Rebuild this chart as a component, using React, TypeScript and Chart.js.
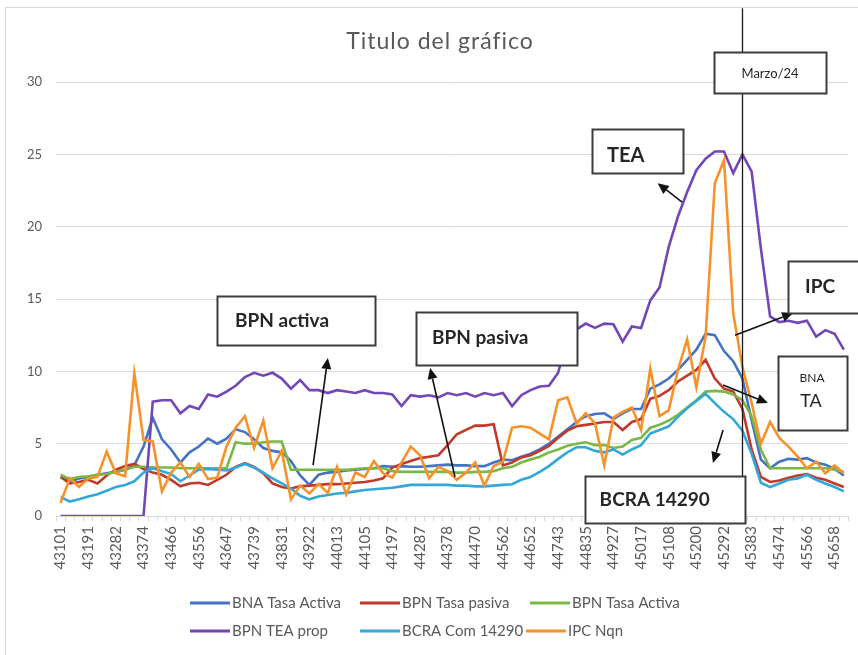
import React, { useEffect, useRef } from "react";
import { Chart, registerables } from "chart.js";

Chart.register(...registerables);

// Excel date serials, one per month (Jan 2018 .. Feb 2025)
const categories = [
  43101, 43132, 43160, 43191, 43221, 43252, 43282, 43313, 43344, 43374, 43405, 43435,
  43466, 43497, 43525, 43556, 43586, 43617, 43647, 43678, 43709, 43739, 43770, 43800,
  43831, 43862, 43891, 43922, 43952, 43983, 44013, 44044, 44075, 44105, 44136, 44166,
  44197, 44228, 44256, 44287, 44317, 44348, 44378, 44409, 44440, 44470, 44501, 44531,
  44562, 44593, 44621, 44652, 44682, 44713, 44743, 44774, 44805, 44835, 44866, 44896,
  44927, 44958, 44986, 45017, 45047, 45078, 45108, 45139, 45170, 45200, 45231, 45261,
  45292, 45323, 45352, 45383, 45413, 45444, 45474, 45505, 45536, 45566, 45597, 45627,
  45658, 45689,
];

const bnaTasaActiva = [
  2.7, 2.4, 2.6, 2.7, 2.85, 2.95, 3.05, 3.2, 3.5, 4.8,
  6.8, 5.3, 4.6, 3.7, 4.4, 4.8, 5.35, 5.0, 5.35, 6.0,
  5.8, 5.3, 4.7, 4.5, 4.4, 3.8, 2.8, 2.15, 2.85, 3.0,
  3.05, 3.15, 3.2, 3.25, 3.3, 3.45, 3.4, 3.45, 3.4, 3.4,
  3.45, 3.5, 3.55, 3.5, 3.5, 3.45, 3.45, 3.7, 3.9, 3.85,
  4.1, 4.3, 4.6, 5.0, 5.5, 6.0, 6.5, 6.9, 7.05, 7.1,
  6.7, 7.1, 7.4, 7.4, 8.8, 9.1, 9.5, 10.1, 10.8, 11.5,
  12.6, 12.5, 11.4, 10.7, 9.5, 6.6, 3.9, 3.3, 3.75, 3.95,
  3.9, 4.0, 3.7, 3.55, 3.25, 2.8,
];

const bpnTasaPasiva = [
  2.7, 2.25, 2.35, 2.5, 2.25, 2.8, 3.2, 3.45, 3.6, 3.25,
  3.0, 2.85, 2.5, 2.05, 2.25, 2.3, 2.15, 2.5, 2.85, 3.4,
  3.65, 3.4, 2.95, 2.25, 2.0, 1.9, 2.05, 2.1, 2.15, 2.2,
  2.2, 2.25, 2.3, 2.35, 2.45, 2.6, 3.35, 3.6, 3.8, 4.0,
  4.1, 4.2, 4.9, 5.65, 5.95, 6.25, 6.25, 6.35, 3.5, 3.7,
  4.05, 4.2, 4.5, 4.85, 5.4, 5.9, 6.2, 6.3, 6.4, 6.5,
  6.5, 5.95, 6.5, 6.7, 8.1, 8.3, 8.7, 9.3, 9.7, 10.1,
  10.8, 9.5, 8.8, 8.6, 7.4, 4.6, 2.7, 2.35, 2.45, 2.65,
  2.8, 2.9, 2.65, 2.5, 2.25, 2.0,
];

const bpnTasaActiva = [
  2.85, 2.55, 2.7, 2.75, 2.85, 2.9, 3.05, 3.2, 3.4, 3.4,
  3.35, 3.35, 3.35, 3.3, 3.3, 3.3, 3.3, 3.3, 3.3, 5.1,
  5.0, 5.0, 5.1, 5.15, 5.15, 3.2, 3.2, 3.2, 3.2, 3.2,
  3.2, 3.2, 3.25, 3.3, 3.3, 3.3, 3.1, 3.05, 3.05, 3.05,
  3.05, 3.05, 3.05, 3.0, 3.0, 3.05, 3.05, 3.1, 3.3, 3.4,
  3.7, 3.9, 4.1, 4.4, 4.6, 4.85, 5.0, 5.1, 4.9, 4.9,
  4.7, 4.8, 5.25, 5.4, 6.1, 6.3, 6.6, 7.0, 7.5, 8.0,
  8.6, 8.65, 8.6, 8.4, 8.0, 6.9, 4.6, 3.3, 3.3, 3.3,
  3.3, 3.3, 3.3, 3.3, 3.2, 3.05,
];

const bpnTeaProp = [
  0, 0, 0, 0, 0, 0, 0, 0, 0, 0,
  7.9, 8.0, 8.0, 7.1, 7.6, 7.4, 8.4, 8.25, 8.6, 9.0,
  9.6, 9.9, 9.7, 9.9, 9.5, 8.8, 9.4, 8.7, 8.7, 8.5,
  8.7, 8.6, 8.5, 8.7, 8.5, 8.5, 8.4, 7.6, 8.35, 8.25,
  8.35, 8.2, 8.5, 8.35, 8.5, 8.25, 8.5, 8.35, 8.5, 7.6,
  8.35, 8.7, 8.95, 9.0, 9.9, 12.3, 12.9, 13.3, 13.0, 13.3,
  13.25, 12.05, 13.1, 13.0, 14.9, 15.8, 18.6, 20.7, 22.4, 23.9,
  24.7, 25.2, 25.2, 23.7, 25.0, 23.8, 18.5, 13.8, 13.4, 13.5,
  13.35, 13.5, 12.4, 12.85, 12.6, 11.5,
];

const bcraCom14290 = [
  1.3, 1.0, 1.15, 1.35, 1.5, 1.75, 2.0, 2.15, 2.4, 3.0,
  3.3, 3.1, 2.9, 2.4, 2.8, 3.2, 3.25, 3.2, 3.15, 3.35,
  3.6, 3.35, 3.0, 2.6, 2.25, 1.9, 1.4, 1.15, 1.35, 1.45,
  1.55, 1.6, 1.7, 1.8, 1.85, 1.9, 1.95, 2.05, 2.15, 2.15,
  2.15, 2.15, 2.15, 2.1, 2.1, 2.05, 2.05, 2.1, 2.15, 2.2,
  2.5, 2.7, 3.05, 3.45, 3.95, 4.4, 4.75, 4.75, 4.5, 4.4,
  4.6, 4.25, 4.6, 4.9, 5.7, 5.95, 6.2, 6.85, 7.45, 7.95,
  8.45, 7.8, 7.2, 6.7, 5.9, 4.3, 2.3, 2.0, 2.25, 2.5,
  2.6, 2.85, 2.5, 2.25, 2.0, 1.7,
];

const ipcNqn = [
  0.9, 2.6, 2.0, 2.6, 2.7, 4.45, 2.95, 2.75, 9.86, 5.25,
  5.15, 1.7, 3.0, 3.7, 2.7, 3.6, 2.55, 2.65, 4.8, 6.1,
  6.9, 4.7, 6.6, 3.3, 4.5, 1.15, 2.1, 1.55, 2.2, 1.6,
  3.4, 1.5, 3.0, 2.7, 3.8, 2.95, 2.65, 3.7, 4.8, 4.2,
  2.6, 3.4, 3.1, 2.5, 3.0, 3.7, 2.1, 3.45, 3.75, 6.1,
  6.2, 6.1, 5.7, 5.3, 8.0, 8.2, 6.4, 7.1, 6.4, 3.5,
  6.8, 7.2, 7.5, 5.95, 10.2, 6.9, 7.3, 10.1, 12.2, 8.9,
  12.4, 23.0, 24.6, 14.0, 10.3, 7.8, 5.0, 6.5, 5.4, 4.8,
  4.1, 3.3, 3.75, 2.95, 3.5, 2.95,
];

const yTicks = [0, 5, 10, 15, 20, 25, 30];
const tickEvery = 3;

const chartTitle = "Titulo del gráfico";

const seriesDefs = [
  { label: "BNA Tasa Activa", data: bnaTasaActiva, color: "#4472C4", order: 6 },
  { label: "BPN Tasa pasiva", data: bpnTasaPasiva, color: "#C0392B", order: 5 },
  { label: "BPN Tasa Activa", data: bpnTasaActiva, color: "#78B843", order: 4 },
  { label: "BPN TEA prop", data: bpnTeaProp, color: "#7447B8", order: 3 },
  { label: "BCRA Com 14290", data: bcraCom14290, color: "#33A8D8", order: 2 },
  { label: "IPC Nqn", data: ipcNqn, color: "#F7922A", order: 1 },
];

const FONT = "Lato, 'Open Sans', 'DejaVu Sans', sans-serif";
const GRAY_TEXT = "#595959";
const GRID = "#d9d9d9";

// Annotation callouts, positioned in data space (category index, value)
type TextItem = { text: string; x: number; y: number; size: number; bold: boolean; align: CanvasTextAlign };
type Callout = { x0: number; x1: number; yTop: number; yBottom: number; texts: TextItem[] };

const callouts: Callout[] = [
  { x0: 70.9, x1: 83.1, yTop: 32.1, yBottom: 29.23, texts: [{ text: "Marzo/24", x: 77.0, y: 30.6, size: 13, bold: false, align: "center" }] },
  { x0: 57.7, x1: 67.5, yTop: 26.75, yBottom: 23.7, texts: [{ text: "TEA", x: 59.3, y: 24.95, size: 20, bold: true, align: "left" }] },
  { x0: 17.0, x1: 34.1, yTop: 15.2, yBottom: 11.8, texts: [{ text: "BPN activa", x: 18.93, y: 13.48, size: 19, bold: true, align: "left" }] },
  { x0: 38.57, x1: 56.0, yTop: 14.1, yBottom: 10.44, texts: [{ text: "BPN pasiva", x: 40.3, y: 12.3, size: 19, bold: true, align: "left" }] },
  { x0: 78.9, x1: 88.5, yTop: 17.62, yBottom: 14.03, texts: [{ text: "IPC", x: 80.8, y: 15.83, size: 19, bold: true, align: "left" }] },
  { x0: 77.86, x1: 85.35, yTop: 11.06, yBottom: 5.94, texts: [
    { text: "BNA", x: 81.55, y: 9.54, size: 12, bold: false, align: "center" },
    { text: "TA", x: 81.44, y: 7.95, size: 18, bold: false, align: "center" },
  ] },
  { x0: 56.9, x1: 74.3, yTop: 2.76, yBottom: -0.48, texts: [{ text: "BCRA 14290", x: 58.5, y: 1.1, size: 19, bold: true, align: "left" }] },
];

type Arrow = { fx: number; fy: number; tx: number; ty: number };
const arrows: Arrow[] = [
  { fx: 67.45, fy: 21.7, tx: 64.8, ty: 23.0 },
  { fx: 27.4, fy: 3.52, tx: 29.0, ty: 10.92 },
  { fx: 42.8, fy: 2.7, tx: 40.1, ty: 10.23 },
  { fx: 73.2, fy: 12.5, tx: 79.5, ty: 14.03 },
  { fx: 71.9, fy: 9.05, tx: 76.77, ty: 7.81 },
  { fx: 71.9, fy: 5.94, tx: 70.8, ty: 3.66 },
];

const markerIndex = 74; // Marzo/24
const markerTop = 35.1;
const markerBottom = -0.55;

const legendCols = [190, 360, 530];
const legendRows = [603, 631];

const overlayPlugin = {
  id: "overlay",
  afterDatasetsDraw(chart: any) {
    const ctx: CanvasRenderingContext2D = chart.ctx;
    const xs = chart.scales.x;
    const ys = chart.scales.y;
    const X = (i: number) => xs.getPixelForValue(i);
    const Y = (v: number) => ys.getPixelForValue(v);
    ctx.save();

    // vertical marker
    ctx.strokeStyle = "#1a1a1a";
    ctx.lineWidth = 1.3;
    ctx.beginPath();
    const mx = Math.round(X(markerIndex)) + 0.5;
    ctx.moveTo(mx, Y(markerTop));
    ctx.lineTo(mx, Y(markerBottom));
    ctx.stroke();

    // arrows
    for (const a of arrows) {
      const x1 = X(a.fx), y1 = Y(a.fy), x2 = X(a.tx), y2 = Y(a.ty);
      const ang = Math.atan2(y2 - y1, x2 - x1);
      const hl = 11, hw = 5;
      const bx = x2 - hl * Math.cos(ang), by = y2 - hl * Math.sin(ang);
      ctx.strokeStyle = "#111";
      ctx.fillStyle = "#111";
      ctx.lineWidth = 1.6;
      ctx.beginPath();
      ctx.moveTo(x1, y1);
      ctx.lineTo(bx, by);
      ctx.stroke();
      ctx.beginPath();
      ctx.moveTo(x2, y2);
      ctx.lineTo(bx + hw * Math.sin(ang), by - hw * Math.cos(ang));
      ctx.lineTo(bx - hw * Math.sin(ang), by + hw * Math.cos(ang));
      ctx.closePath();
      ctx.fill();
    }

    // boxes
    for (const c of callouts) {
      const l = Math.round(X(c.x0)) + 0.5, r = Math.round(X(c.x1)) + 0.5;
      const t = Math.round(Y(c.yTop)) + 0.5, b = Math.round(Y(c.yBottom)) + 0.5;
      ctx.fillStyle = "#ffffff";
      ctx.fillRect(l, t, r - l, b - t);
      ctx.strokeStyle = "#3c3c3c";
      ctx.lineWidth = 2;
      ctx.strokeRect(l, t, r - l, b - t);
      for (const tx of c.texts) {
        ctx.fillStyle = "#262626";
        ctx.font = `${tx.bold ? "bold " : ""}${tx.size}px ${FONT}`;
        ctx.textAlign = tx.align;
        ctx.textBaseline = "middle";
        ctx.fillText(tx.text, X(tx.x), Y(tx.y));
      }
    }
    ctx.restore();
  },
  afterDraw(chart: any) {
    const ctx: any = chart.ctx;
    ctx.save();
    // outer frame
    ctx.strokeStyle = GRID;
    ctx.lineWidth = 1;
    ctx.strokeRect(5.5, 7.5, 900, 700);

    // title
    ctx.fillStyle = GRAY_TEXT;
    ctx.font = `23px ${FONT}`;
    ctx.letterSpacing = "1px";
    ctx.textAlign = "center";
    ctx.textBaseline = "middle";
    ctx.fillText(chartTitle, 440, 42);
    ctx.letterSpacing = "0px";

    // legend
    ctx.font = `15px ${FONT}`;
    ctx.textAlign = "left";
    chart.data.datasets.forEach((ds: any, i: number) => {
      const col = i % 3, row = Math.floor(i / 3);
      const x = legendCols[col] - (row === 1 && col === 2 ? 4 : 0);
      const y = legendRows[row];
      ctx.strokeStyle = ds.borderColor;
      ctx.lineWidth = 3;
      ctx.beginPath();
      ctx.moveTo(x, y);
      ctx.lineTo(x + 40, y);
      ctx.stroke();
      ctx.fillStyle = GRAY_TEXT;
      ctx.fillText(ds.label, x + 42, y);
    });
    ctx.restore();
  },
};

export default function App() {
  const ref = useRef<HTMLCanvasElement | null>(null);
  useEffect(() => {
    if (!ref.current) return;
    const chart = new Chart(ref.current, {
      type: "line",
      data: {
        labels: categories.map(String),
        datasets: seriesDefs.map((s) => ({
          label: s.label,
          data: s.data,
          borderColor: s.color,
          backgroundColor: s.color,
          borderWidth: 2.6,
          pointRadius: 0,
          tension: 0,
          fill: false,
          order: s.order,
        })),
      },
      options: {
        responsive: false,
        animation: false,
        events: [],
        layout: { padding: { left: 0, right: 9.6, top: 82, bottom: 0 } },
        plugins: { legend: { display: false }, title: { display: false }, tooltip: { enabled: false } },
        scales: {
          x: {
            type: "category",
            offset: true,
            grid: { offset: true, drawOnChartArea: false, drawTicks: true, tickLength: 5, color: GRID },
            border: { color: GRID },
            ticks: {
              autoSkip: false,
              maxRotation: 90,
              minRotation: 90,
              padding: 5,
              color: GRAY_TEXT,
              font: { family: FONT, size: 15 },
              callback: (_v: any, i: number) => (i % tickEvery === 0 ? String(categories[i]) : ""),
            },
            afterFit: (s: any) => { s.height = 139; s.paddingLeft = 0; s.paddingRight = 0; },
          },
          y: {
            min: yTicks[0],
            max: yTicks[yTicks.length - 1],
            afterBuildTicks: (s: any) => { s.ticks = yTicks.map((v) => ({ value: v })); },
            grid: { color: GRID, drawTicks: false },
            border: { display: false },
            ticks: { color: GRAY_TEXT, font: { family: FONT, size: 13 }, padding: 14 },
            afterFit: (s: any) => { s.width = 56; s.paddingTop = 0; s.paddingBottom = 0; },
          },
        },
      },
      plugins: [overlayPlugin],
    });
    return () => chart.destroy();
  }, []);
  return (
    <div style={{ position: "fixed", left: 0, top: 0, width: 858, height: 655, background: "#fff" }}>
      <canvas ref={ref} width={858} height={655} style={{ display: "block" }} />
    </div>
  );
}
